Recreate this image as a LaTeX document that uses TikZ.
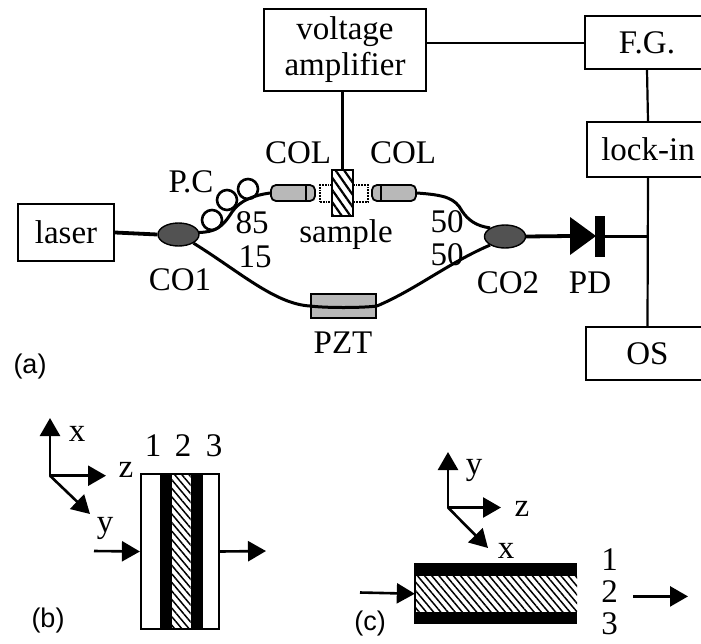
\documentclass[tikz,border=0pt]{standalone}
\usepackage{fontspec}
\setmainfont{Liberation Serif}
\newfontfamily\lab{Liberation Sans}
\usetikzlibrary{patterns.meta,arrows.meta,shapes.geometric,calc}
\tikzset{
 box/.style={draw,line width=2.2pt,inner sep=0pt,align=center,font=\fontsize{33}{36}\selectfont},
 txt/.style={inner sep=0pt,font=\fontsize{33}{36}\selectfont,align=center},
 sublabel/.style={inner sep=0pt,font=\lab\fontsize{27}{27}\selectfont},
 wire/.style={line width=2.2pt},
 fib/.style={line width=3pt},
 thickfib/.style={line width=3.8pt},
 arr/.style={line width=2.6pt,-{Triangle[length=18pt,width=20pt]}},
 coupler/.style={ellipse,draw,line width=1.4pt,fill=black!68,minimum width=41pt,minimum height=23pt,inner sep=0pt},
 colbody/.style={draw,line width=1.8pt,fill=black!28,rounded corners=5pt,minimum width=44pt,minimum height=16pt,inner sep=0pt},
 coil/.style={circle,draw,line width=2.6pt,fill=none,minimum size=20pt,inner sep=0pt},
 layer/.style={draw=none,inner sep=0pt},
 blk/.style={layer,fill=black},
 hatched/.style={layer,pattern={Lines[angle=-50,distance=5.5pt,line width=1.5pt]}},
}
\begin{document}
\begin{tikzpicture}[x=1pt,y=-1pt]
\useasboundingbox (0,0) rectangle (701,643);
\fill[white] (0,0) rectangle (701,643);
% boxes (the three on the right run off the page edge)
\node[box,minimum width=162pt,minimum height=82pt] (va) at (345,50) {voltage\\amplifier};
\node[box,minimum width=124pt,minimum height=53pt] (fg) at (647,42.5) {F.G.};
\node[box,minimum width=122pt,minimum height=55pt] (li) at (648,149.5) {lock-in};
\node[box,minimum width=123pt,minimum height=53pt] (os) at (647.5,353.5) {OS};
\node[box,minimum width=96pt,minimum height=57pt] (laser) at (66,232.5) {laser};
% couplers, collimators, sample, PZT
\node[coupler] (c1) at (178.5,234.5) {};
\node[coupler] (c2) at (505,236.5) {};
\node[draw,densely dotted,line width=1.8pt,minimum width=48pt,minimum height=17pt,inner sep=0pt] (gap) at (344,193.5) {};
\node[colbody] (col1) at (293,193) {};
\node[colbody] (col2) at (394,193) {};
\draw[line width=1.4pt] (306,185.5) -- (306,200.5);
\draw[line width=1.4pt] (381,185.5) -- (381,200.5);
\node[draw,line width=1.8pt,fill=white,minimum width=21pt,minimum height=46pt,inner sep=0pt] (smpbg) at (342.5,193) {};
\node[draw,line width=1.8pt,pattern={Lines[angle=-55,distance=7pt,line width=2.2pt]},minimum width=21pt,minimum height=46pt,inner sep=0pt] (smp) at (342.5,193) {};
\node[draw,line width=1.8pt,fill=black!28,minimum width=65pt,minimum height=24pt,inner sep=0pt] (pzt) at (343.5,306) {};
% electrical wires
\draw[wire] (va.east |- 0,43) -- (fg.west |- 0,43);
\draw[wire] (fg.south) -- (li.north);
\draw[wire] (li.south) -- (os.north);
\draw[wire] (va.south -| smp.north) -- (smp.north);
% photodiode
\coordinate (pda) at (570,217);
\coordinate (pdb) at (570,255);
\coordinate (pdc) at (596,236);
\fill (pda) -- (pdc) -- (pdb) -- cycle;
\node[fill=black,minimum width=10pt,minimum height=41pt,inner sep=0pt] (bar) at (600,236.5) {};
\coordinate (junc) at (li.south |- bar);
\draw[wire] (bar.east) -- (junc);
% fibres
\draw[thickfib] (laser.east) -- (c1.west);
\draw[fib] (c1.east) ++(-1,-2) .. controls (215,232) and (222,228) .. (232,212) .. controls (240,200) and (255,195) .. (col1.west);
\draw[fib] (c1.south east) .. controls (240,272) and (275,304) .. (pzt.west);
\draw[fib] (pzt.west) .. controls (325,308) and (362,308) .. (pzt.east);
\draw[fib] (pzt.east) .. controls (415,290) and (450,262) .. (c2.south west);
\draw[fib] (col2.east) .. controls (445,195) and (455,198) .. (462,211) .. controls (468,220) and (476,226) .. (c2.north west);
\draw[thickfib] (c2.east) -- ($(pda)!0.5!(pdb)$);
% polarization controller
\node[coil] (p1) at (212,220) {};
\node[coil] (p2) at (227,200) {};
\node[coil] (p3) at (248,189) {};
% texts
\node[txt] (tpc) at (191,182) {P.C};
\node[txt] (tcl) at (298,153) {COL};
\node[txt] (tcr) at (403,153) {COL};
\node[txt] (t85) at (252,223) {85};
\node[txt] (t15) at (255,257) {15};
\node[txt] (tsm) at (346,235) {sample};
\node[txt] (tc1) at (180,280) {CO1};
\node[txt] (tpz) at (343,343) {PZT};
\node[txt] (t50a) at (447,222) {50};
\node[txt] (t50b) at (447,255) {50};
\node[txt] (tc2) at (508,283) {CO2};
\node[txt] (tpd) at (590,283) {PD};
\node[sublabel] (la) at (30,367) {(a)};
% panel b
\node[draw,line width=2.2pt,minimum width=78pt,minimum height=155pt,inner sep=0pt] (bbox) at (180,551.5) {};
\node[blk,minimum width=12pt,minimum height=155pt] (bb1) at (165.5,551.5) {};
\node[hatched,minimum width=19pt,minimum height=153pt] (bh) at (181,551.5) {};
\node[blk,minimum width=12pt,minimum height=155pt] (bb2) at (196.5,551.5) {};
\node[txt] (n1b) at (153,446) {1};
\node[txt] (n2b) at (183,446) {2};
\node[txt] (n3b) at (214,446) {3};
\coordinate (bo) at (50,475.7);
\coordinate (bx) at (50,418);
\coordinate (bz) at (106,475.7);
\coordinate (by) at (90,514);
\draw[arr] (bo) -- (bx);
\draw[arr] (bo) -- (bz);
\draw[arr] (bo) -- (by);
\node[txt] (lbx) at (77,434) {x};
\node[txt] (lbz) at (126,470) {z};
\node[txt] (lby) at (105,528) {y};
\coordinate (bin) at (94,551);
\coordinate (bout) at (266,551);
\draw[arr] (bin) -- (bbox.west);
\draw[arr] (bbox.east) -- (bout);
\node[sublabel] (lb) at (48,621) {(b)};
% panel c
\node[blk,minimum width=162pt,minimum height=13pt] (ct) at (496,569.5) {};
\node[hatched,minimum width=162pt,minimum height=35.5pt] (ch) at (496,593.75) {};
\node[blk,minimum width=162pt,minimum height=12.2pt] (cb) at (496,617.6) {};
\draw[line width=1.8pt] (ct.north west) -- (cb.south west);
\coordinate (co) at (448,507.5);
\coordinate (cy) at (448,452);
\coordinate (cz) at (501,507.5);
\coordinate (cx) at (488,548);
\draw[arr] (co) -- (cy);
\draw[arr] (co) -- (cz);
\draw[arr] (co) -- (cx);
\node[txt] (lcy) at (474,470) {y};
\node[txt] (lcz) at (522,508.5) {z};
\node[txt] (lcx) at (506,551) {x};
\node[txt] (n1c) at (609.5,559.5) {1};
\node[txt] (n2c) at (609.5,592) {2};
\node[txt] (n3c) at (609.5,624) {3};
\coordinate (cin) at (360,592.5);
\coordinate (cout0) at (633,596.4);
\coordinate (cout1) at (688,596.4);
\draw[arr] (cin) -- (ch.west);
\draw[arr] (cout0) -- (cout1);
\node[sublabel] (lc) at (370,623.7) {(c)};
\end{tikzpicture}
\end{document}
